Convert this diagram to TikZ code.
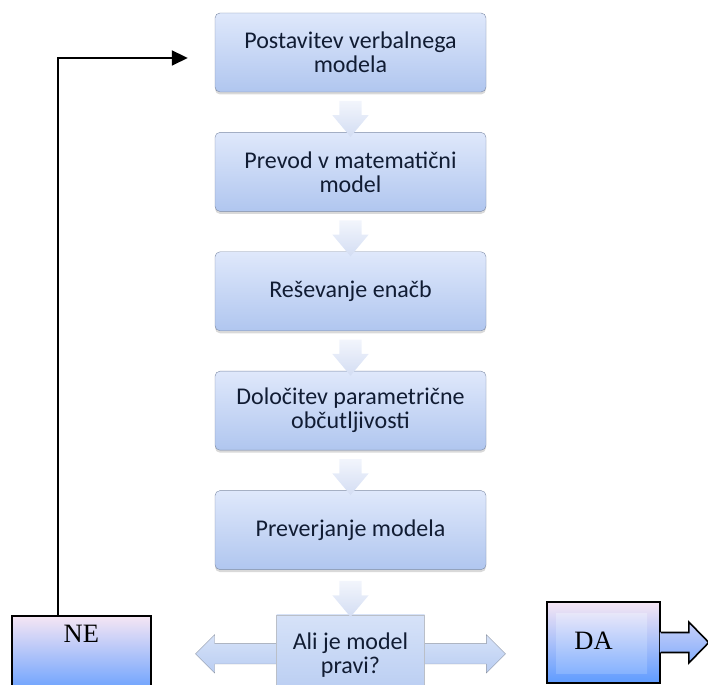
\documentclass[tikz,border=0pt]{standalone}
\usepackage{fontspec}
\setmainfont{Carlito}
\newfontfamily\timesfont{Liberation Serif}
\usetikzlibrary{arrows.meta,positioning,shapes.arrows,shadows,calc}
\definecolor{boxtop}{HTML}{DFE8FB}
\definecolor{boxbot}{HTML}{B0C6EF}
\definecolor{boxline}{HTML}{7D8BA6}
\definecolor{boxtext}{HTML}{111C33}
\definecolor{chevtop}{HTML}{F2F5FC}
\definecolor{chevbot}{HTML}{D3DDF3}
\definecolor{asktop}{HTML}{D6E2F8}
\definecolor{askbot}{HTML}{B9CDF2}
\definecolor{askline}{HTML}{8C94A3}
\definecolor{pinktop}{HTML}{F6E6F4}
\definecolor{bluebot}{HTML}{5E9BFF}

\begin{document}
\begin{tikzpicture}[x=1pt,y=1pt,
  stage/.style={draw=boxline,rounded corners=5pt,top color=boxtop,bottom color=boxbot,minimum width=271pt,minimum height=79pt,align=center,text=boxtext,font=\fontsize{24}{24}\selectfont,inner sep=2pt,drop shadow={shadow xshift=0pt,shadow yshift=-2.5pt,opacity=.3}},
  chev/.style={single arrow,shape border rotate=270,draw=none,top color=chevtop,bottom color=chevbot,minimum height=36pt,minimum width=36pt,single arrow head extend=7pt,single arrow tip angle=80,inner sep=11pt},
  dbl/.style={double arrow,draw=askline,top color=asktop,bottom color=askbot,minimum height=310pt,minimum width=38pt,double arrow head extend=9pt,double arrow tip angle=90,inner sep=10pt},
  ask/.style={draw=askline!60,top color=asktop,bottom color=askbot,minimum width=148pt,minimum height=80pt,align=center,text=boxtext,font=\fontsize{24}{24}\selectfont},
  endbox/.style={draw=black,line width=1.6pt,top color=pinktop,bottom color=bluebot,font=\timesfont\fontsize{26.5}{26}\selectfont,inner sep=0pt},
  back/.style={-{Triangle[length=16pt,width=15pt]},line width=1.8pt},
  node distance=40pt
]
\clip (0,0) rectangle (708,684);
\node[stage] (s1) at (350.5,631.5) {Postavitev verbalnega\\modela};
\node[stage,below=of s1] (s2) {Prevod v matematični\\model};
\node[stage,below=of s2] (s3) {Reševanje enačb};
\node[stage,below=of s3] (s4) {Določitev parametrične\\občutljivosti};
\node[stage,below=of s4] (s5) {Preverjanje modela};
\node[chev] (c1) at ($(s1.south)!.5!(s2.north)$) {};
\node[chev] (c2) at ($(s2.south)!.5!(s3.north)$) {};
\node[chev] (c3) at ($(s3.south)!.5!(s4.north)$) {};
\node[chev] (c4) at ($(s4.south)!.5!(s5.north)$) {};
\node[dbl] (both) at ([yshift=-84pt]s5.south) {};
\node[ask,below=45pt of s5] (ask) {Ali je model\\pravi?};
\node[chev] (c5) at ($(s5.south)!.5!(ask.north)$) {};
\node[endbox,anchor=north west,minimum width=139pt,text height=27pt,text depth=55pt] (ne) at (11,69) {NE};
\node[endbox,minimum width=113pt,text height=48pt,text depth=33pt,
  path picture={\shade[top color=pinktop!60!white,bottom color=bluebot!85!white] ([shift={(9pt,-12pt)}]path picture bounding box.north west) rectangle ([shift={(-13pt,9pt)}]path picture bounding box.south east);}] (da) at (603.5,41.5) {DA\hspace*{20pt}};
\shade[top color=pinktop!70!bluebot,bottom color=pinktop!25!bluebot] ([shift={(-1pt,10pt)}]da.east) -- ++(29,0) -- ++(0,10.5) -- ([xshift=48pt]da.east) -- ++(-20,-20.5) -- ++(0,10.5) -- ([shift={(-1pt,-10pt)}]da.east) -- cycle;
\draw[line width=1.6pt,line join=miter] ([yshift=10pt]da.east) -- ++(28,0) -- ++(0,10.5) -- ([xshift=48pt]da.east) -- ++(-20,-20.5) -- ++(0,10.5) -- ([yshift=-10pt]da.east);
\draw[back] ([xshift=-23.5pt]ne.north) |- ([xshift=-27pt,yshift=-5.5pt]s1.west);
\end{tikzpicture}
\end{document}
